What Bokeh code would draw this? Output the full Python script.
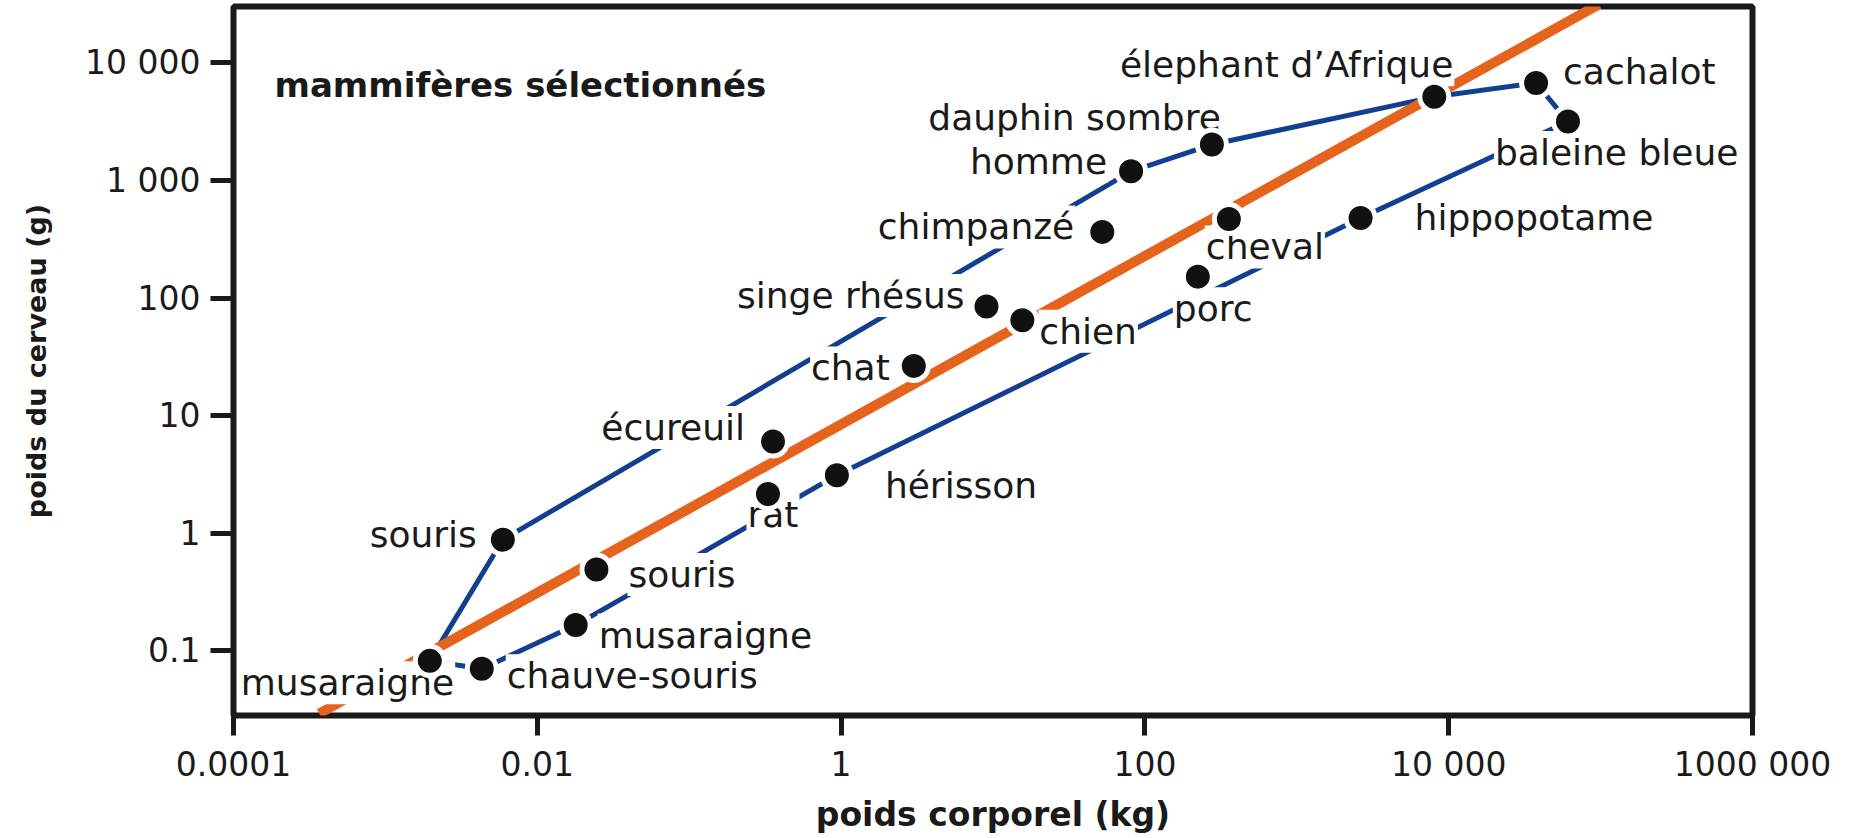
from bokeh.plotting import figure
from bokeh.models import FixedTicker, ColumnDataSource, Range1d
from bokeh.core.properties import value
from bokeh.embed import file_html
from bokeh.resources import INLINE

# ---------------- data ----------------
animals = ["musaraigne", "souris", "souris", "chauve-souris", "musaraigne",
           "écureuil", "rat", "hérisson", "chat", "singe rhésus", "chien",
           "chimpanzé", "homme", "dauphin sombre", "cheval", "porc",
           "hippopotame", "élephant d’Afrique", "cachalot", "baleine bleue"]
body_kg = [0.00196, 0.00593, 0.0245, 0.00431, 0.0179,
           0.356, 0.330, 0.938, 3.01, 9.06, 15.6,
           52.4, 81.1, 276, 357, 223,
           2630, 8040, 37600, 61000]
brain_g = [0.0824, 0.883, 0.493, 0.0706, 0.166,
           6.04, 2.16, 3.12, 26.5, 84.9, 64.7,
           365, 1194, 2017, 470, 152,
           479, 5130, 6730, 3160]
# order of the animals along the blue envelope
envelope_order = [0, 1, 12, 13, 17, 18, 19, 16, 7, 4, 3, 0]
# orange trend line, where it meets the frame
trend_body_kg = [0.000367, 97500]
trend_brain_g = [0.0294, 31300]

x_ticks = [1e-4, 1e-2, 1, 100, 1e4, 1e6]
x_tick_labels = ["0.0001", "0.01", "1", "100", "10 000", "1000 000"]
y_ticks = [0.1, 1, 10, 100, 1000, 10000]
y_tick_labels = ["0.1", "1", "10", "100", "1 000", "10 000"]

title_text = "mammifères sélectionnés"
x_title = "poids corporel (kg)"
y_title = "poids du cerveau (g)"

# ---------------- layout of the labels (screen offsets) ----------------
label_layout = [
    ("left", -190, 22), ("right", -25, -5), ("left", 31, 5), ("left", 24, 7),
    ("left", 22, 10), ("right", -27, -14), ("center", 5, 21), ("left", 47, 10),
    ("right", -23, 2), ("right", -21, -11), ("left", 16, 11), ("right", -27, -5),
    ("right", -23, -10), ("right", 10, -27), ("left", -24, 28), ("left", -25, 32),
    ("left", 53, 0), ("right", 20, -32), ("left", 26, -11), ("left", -74, 31),
]

BLUE = "#123f8f"
ORANGE = "#e5631c"
INK = "#1a1a1a"
FONT = "DejaVu Sans"

p = figure(width=1845, height=836, x_axis_type="log", y_axis_type="log",
           x_range=Range1d(1e-4, 1e6), y_range=Range1d(10 ** -1.5485, 10 ** 4.478),
           output_backend="svg", toolbar_location=None,
           min_border_left=233, min_border_right=93, min_border_top=6,
           min_border_bottom=116)
p.background_fill_color = "white"
p.border_fill_color = "white"
p.xgrid.visible = False
p.ygrid.visible = False
p.outline_line_color = INK
p.outline_line_width = 6

for ax, ticks, labels, tout in ((p.xaxis[0], x_ticks, x_tick_labels, 20),
                                (p.yaxis[0], y_ticks, y_tick_labels, 23)):
    ax.ticker = FixedTicker(ticks=ticks, minor_ticks=[])
    ax.major_label_overrides = {t: l for t, l in zip(ticks, labels)}
    ax.axis_line_color = None
    ax.major_tick_in = 0
    ax.major_tick_out = tout
    ax.major_tick_line_width = 5
    ax.major_tick_line_color = INK
    ax.minor_tick_line_color = None
    ax.major_label_text_font = FONT
    ax.major_label_text_font_size = "33px"
    ax.major_label_text_color = INK
    ax.axis_label_text_font = FONT
    ax.axis_label_text_font_style = "bold"
    ax.axis_label_text_color = INK

p.xaxis.major_label_standoff = 9
p.yaxis.major_label_standoff = 10
p.xaxis.axis_label = x_title
p.xaxis.axis_label_text_font_size = "33px"
p.xaxis.axis_label_standoff = 8
p.yaxis.axis_label = y_title
p.yaxis.axis_label_text_font_size = "27px"
p.yaxis.axis_label_standoff = 30

# blue envelope
p.line([body_kg[i] for i in envelope_order], [brain_g[i] for i in envelope_order],
       line_color=BLUE, line_width=5, line_join="round")
# orange trend
p.line(trend_body_kg, trend_brain_g, line_color=ORANGE, line_width=10)

# labels
for align in ("left", "right", "center"):
    idx = [i for i, l in enumerate(label_layout) if l[0] == align]
    src = ColumnDataSource(dict(
        x=[body_kg[i] for i in idx], y=[brain_g[i] for i in idx],
        text=[animals[i] for i in idx],
        dx=[label_layout[i][1] for i in idx], dy=[label_layout[i][2] for i in idx]))
    p.text(x="x", y="y", text="text", x_offset="dx", y_offset="dy", source=src,
           text_align=align, text_baseline="middle", text_font=value(FONT),
           text_font_size="36px", text_color=INK,
           background_fill_color="white", padding=1)

# title inside the frame
p.text(x=[p.x_range.start], y=[y_ticks[-1]], text=[title_text], x_offset=41, y_offset=22,
       text_align="left", text_baseline="alphabetic", text_font=value(FONT),
       text_font_style="bold", text_font_size="34px", text_color=INK)

# dots with white halo
p.scatter(body_kg, brain_g, size=29, fill_color="#111111", line_color="white", line_width=5)

open("out.html", "w").write(file_html(p, INLINE))
